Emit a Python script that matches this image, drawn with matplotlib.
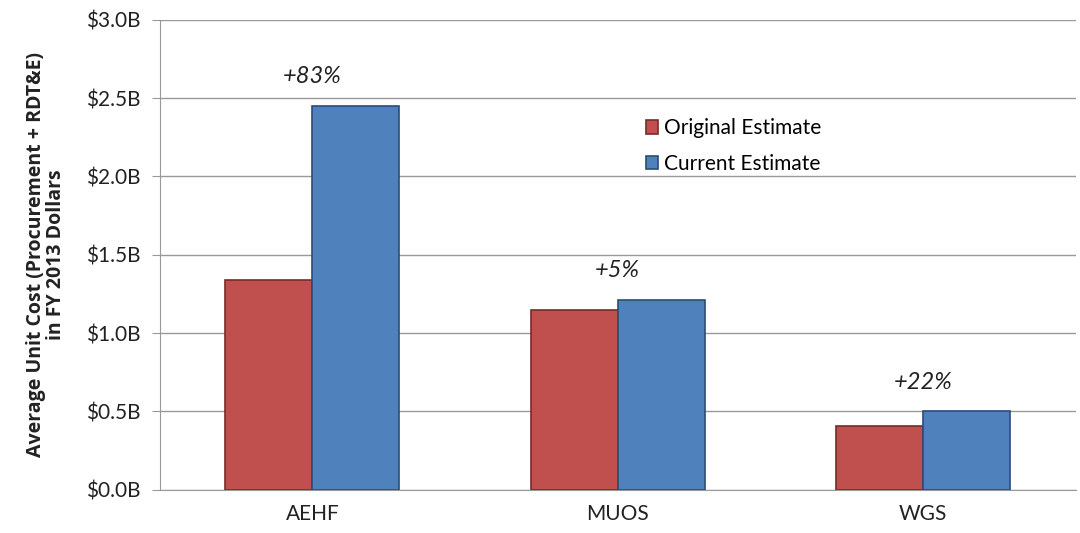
import numpy as np
import matplotlib
matplotlib.use("Agg")
import matplotlib.pyplot as plt
from matplotlib.ticker import FuncFormatter

# ===== Data =====
programs = ['AEHF', 'MUOS', 'WGS']
original_estimate = [1.34, 1.15, 0.41]   # $B
current_estimate = [2.45, 1.21, 0.50]    # $B
growth_labels = ['+83%', '+5%', '+22%']
series_names = ['Original Estimate', 'Current Estimate']

plt.rcParams['font.family'] = ['Lato', 'DejaVu Sans']

red = '#c0504d'
blue = '#4f81bd'

fig = plt.figure(figsize=(10.8, 5.33), dpi=100)
ax = fig.add_axes([0.148, 0.081, 0.848, 0.882])

x = np.arange(len(programs))
w = 0.285
ax.bar(x - w / 2, original_estimate, w, color=red, edgecolor='#7a2a28',
       linewidth=1.2, label=series_names[0], zorder=3)
ax.bar(x + w / 2, current_estimate, w, color=blue, edgecolor='#2c4d75',
       linewidth=1.2, label=series_names[1], zorder=3)

# growth annotations above each pair
for i, lab in enumerate(growth_labels):
    top = max(original_estimate[i], current_estimate[i])
    ax.text(x[i], top + 0.12, lab, ha='center', va='bottom', fontsize=17,
            style='italic', color='#222222')

ax.set_xlim(-0.5, 2.5)
ax.set_ylim(0, 3.0)
ax.set_yticks(np.arange(0, 3.01, 0.5))
ax.yaxis.set_major_formatter(FuncFormatter(lambda v, p: '${:.1f}B'.format(v)))
ax.set_xticks(x)
ax.set_xticklabels(programs)
ax.tick_params(axis='y', labelsize=15, length=6, color='#999999', pad=8)
ax.tick_params(axis='x', labelsize=15, length=0, pad=10)
for lbl in ax.get_yticklabels() + ax.get_xticklabels():
    lbl.set_color('#222222')

ax.grid(axis='y', color='#999999', linewidth=1.0, zorder=0)
ax.set_axisbelow(True)
for s in ['top', 'right']:
    ax.spines[s].set_visible(False)
ax.spines['left'].set_color('#999999')
ax.spines['bottom'].set_color('#999999')

ax.set_ylabel('Average Unit Cost (Procurement + RDT&E)\nin FY 2013 Dollars',
              fontsize=14, fontweight='bold', color='#222222', labelpad=14,
              linespacing=1.05, family=['Open Sans', 'DejaVu Sans'])

ax.legend(loc='upper left', bbox_to_anchor=(0.51, 0.83), frameon=False,
          fontsize=15, handlelength=0.6, handleheight=0.6, handletextpad=0.3,
          labelspacing=0.75)

fig.savefig('out.png', dpi=100)
